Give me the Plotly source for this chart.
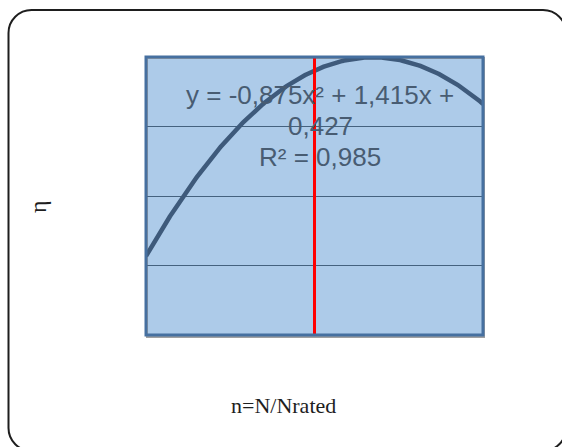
import numpy as np
import plotly.graph_objects as go

# Quadratic trendline coefficients (a, b, c) and goodness of fit
fit_coeffs = [-0.875, 1.415, 0.427]
r_squared = 0.985
eq_lines = ["y = -0,875x² + 1,415x +", "0,427", "R² = 0,985"]

# Axis extents and grid
x_range = [0.0, 1.2]
y_range = [0.2, 1.0]
y_grid = [0.4, 0.6, 0.8]

# Rated-speed marker
n_rated = [0.6]

x_title = "n=N/Nrated"
y_title = "η"

W, H = 562, 447
ML, MR, MT, MB = 146, W - 483, 57, H - 335
PW, PH = W - ML - MR, H - MT - MB


def px(x):
    return (x - ML) / PW


def py(y):
    return (H - MB - y) / PH


xs = np.linspace(x_range[0], x_range[1], 200)
ys = fit_coeffs[0] * xs**2 + fit_coeffs[1] * xs + fit_coeffs[2]

fig = go.Figure()
fig.add_trace(go.Scatter(x=xs, y=ys, mode="lines",
                         line=dict(color="#3e5a7b", width=4.5),
                         hoverinfo="skip", showlegend=False))
fig.add_trace(go.Scatter(x=[n_rated[0], n_rated[0]], y=y_range, mode="lines",
                         line=dict(color="#ff0000", width=3),
                         hoverinfo="skip", showlegend=False, cliponaxis=False))

# Outer rounded frame (runs slightly past the right and bottom edges)
L, R, T, B, r = 8.5, 566, 10, 451, 23
k = 0.45
pts = [
    ("M", [(L + r, T)]),
    ("L", [(R - r, T)]),
    ("C", [(R - r * k, T), (R, T + r * k), (R, T + r)]),
    ("L", [(R, B - r)]),
    ("C", [(R, B - r * k), (R - r * k, B), (R - r, B)]),
    ("L", [(L + r, B)]),
    ("C", [(L + r * k, B), (L, B - r * k), (L, B - r)]),
    ("L", [(L, T + r)]),
    ("C", [(L, T + r * k), (L + r * k, T), (L + r, T)]),
]
path = " ".join(cmd + " " + " ".join(f"{px(a):.5f},{py(b):.5f}" for a, b in p) for cmd, p in pts) + " Z"

shapes = [
    # soft shadow under the plot frame
    dict(type="rect", xref="paper", yref="paper",
         x0=px(ML + 1), x1=px(W - MR + 1), y0=py(H - MB + 2), y1=py(MT + 1),
         line=dict(color="#a0a0a0", width=2), layer="below"),
    dict(type="rect", xref="paper", yref="paper",
         x0=0, x1=1, y0=0, y1=1,
         line=dict(color="#4670a0", width=3), layer="above"),
    dict(type="path", xref="paper", yref="paper", path=path,
         line=dict(color="#1e1e1e", width=2)),
]

annotations = []
eq_y = [95, 126, 157]
for txt, yy in zip(eq_lines, eq_y):
    annotations.append(dict(text=txt, xref="paper", yref="paper",
                            x=px(320), y=py(yy), xanchor="center", yanchor="middle",
                            showarrow=False,
                            font=dict(family="Liberation Sans, Arial", size=26, color="#485c72")))
annotations.append(dict(text=y_title, xref="paper", yref="paper",
                        x=px(38), y=py(207), xanchor="center", yanchor="middle",
                        textangle=-90, showarrow=False,
                        font=dict(family="Liberation Serif, Times New Roman", size=24, color="#1e1e1e")))
annotations.append(dict(text=x_title, xref="paper", yref="paper",
                        x=px(283), y=py(405), xanchor="center", yanchor="middle",
                        showarrow=False,
                        font=dict(family="Liberation Serif, Times New Roman", size=22, color="#1e1e1e")))

fig.update_layout(
    width=W, height=H,
    margin=dict(l=ML, r=MR, t=MT, b=MB, pad=0),
    paper_bgcolor="white",
    plot_bgcolor="#adcbe9",
    shapes=shapes,
    annotations=annotations,
    xaxis=dict(range=x_range, showgrid=False, zeroline=False, showticklabels=False,
               ticks="", showline=False, fixedrange=True),
    yaxis=dict(range=y_range, tickvals=y_grid, showgrid=True, gridcolor="#45627f",
               gridwidth=1.2, zeroline=False, showticklabels=False, ticks="",
               showline=False, fixedrange=True),
)

fig.write_html("out.html")
